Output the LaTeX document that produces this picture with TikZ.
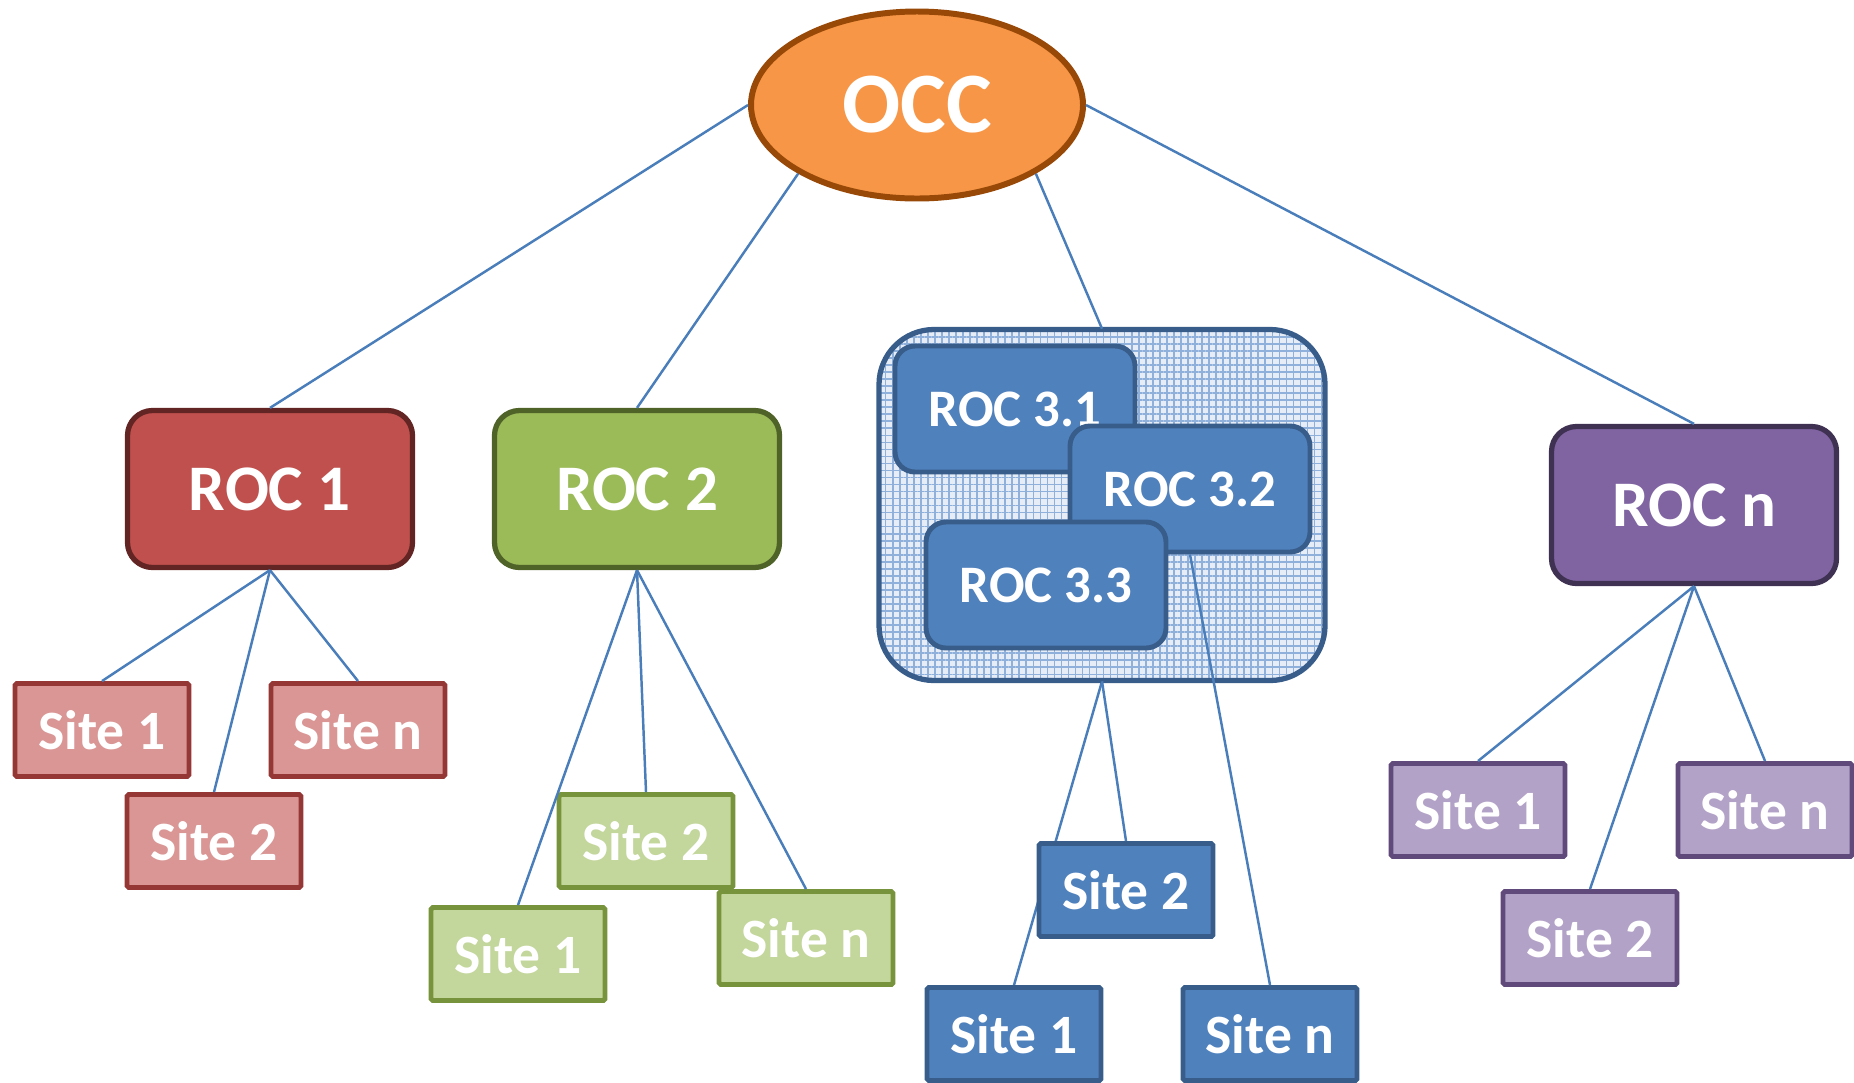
\documentclass[tikz,border=0pt]{standalone}
\usepackage{fontspec}
\setmainfont{Carlito}
\usetikzlibrary{shapes.geometric,backgrounds,patterns.meta}

\definecolor{linkblue}{HTML}{4A7EBB}
\definecolor{occfill}{HTML}{F79646}
\definecolor{occline}{HTML}{984807}
\definecolor{redfill}{HTML}{C0504D}
\definecolor{redline}{HTML}{632523}
\definecolor{redsite}{HTML}{D99694}
\definecolor{redsiteline}{HTML}{953735}
\definecolor{greenfill}{HTML}{9BBB59}
\definecolor{greenline}{HTML}{4F6228}
\definecolor{greensite}{HTML}{C3D69B}
\definecolor{greensiteline}{HTML}{77933C}
\definecolor{bluefill}{HTML}{4F81BD}
\definecolor{blueline}{HTML}{385D8A}
\definecolor{grpfill}{HTML}{E6EDF7}
\definecolor{grphatch}{HTML}{8FB0DA}
\definecolor{purplefill}{HTML}{8064A2}
\definecolor{purpleline}{HTML}{3F3151}
\definecolor{purplesite}{HTML}{B3A2C7}
\definecolor{purplesiteline}{HTML}{604A7B}

\tikzset{
  roc/.style={draw, line width=1.5pt, rounded corners=0.25cm,
    minimum width=2.85cm, minimum height=1.57cm, inner sep=0pt,
    text=white, font=\fontsize{18.5}{19}\selectfont\bfseries},
  subroc/.style={draw=blueline, fill=bluefill, line width=1.4pt,
    rounded corners=0.2cm, minimum width=2.40cm, minimum height=1.26cm,
    inner sep=0pt, text=white, font=\fontsize{15}{15}\selectfont\bfseries},
  site/.style={draw, line width=1.4pt, rounded corners=0.5pt,
    minimum width=1.74cm, minimum height=0.93cm, inner sep=0pt,
    text=white, font=\fontsize{15.8}{16}\selectfont\bfseries},
  link/.style={draw=linkblue, line width=0.7pt}
}

\begin{document}
\begin{tikzpicture}
  \useasboundingbox (0,0) rectangle (18.54,-10.82);

  \node[ellipse, draw=occline, fill=occfill, line width=1.7pt,
        minimum width=3.32cm, minimum height=1.87cm, inner sep=0pt,
        text=white, font=\fontsize{24.5}{25}\selectfont\bfseries]
        (OCC) at (9.17,-1.05) {OCC} ;

  \node[roc, draw=redline, fill=redfill]       (R1) at ( 2.70,-4.89) {ROC 1} ;
  \node[roc, draw=greenline, fill=greenfill]   (R2) at ( 6.37,-4.89) {ROC 2} ;
  \node[roc, draw=purpleline, fill=purplefill] (Rn) at (16.94,-5.05) {ROC n} ;

  \node[draw=blueline, line width=1.5pt, rounded corners=0.55cm,
        preaction={fill=grpfill},
        pattern={Hatch[angle=0, distance=2pt, line width=0.45pt]},
        pattern color=grphatch,
        minimum width=4.46cm, minimum height=3.51cm] (R3) at (11.02,-5.05) {} ;
  \node[subroc] (R31) at (10.15,-4.09) {ROC 3.1} ;
  \node[subroc] (R32) at (11.90,-4.89) {ROC 3.2} ;
  \node[subroc] (R33) at (10.46,-5.85) {ROC 3.3} ;

  \node[site, draw=redsiteline, fill=redsite] (S11) at ( 1.02,-7.30) {Site 1} ;
  \node[site, draw=redsiteline, fill=redsite] (S12) at ( 2.14,-8.41) {Site 2} ;
  \node[site, draw=redsiteline, fill=redsite] (S1n) at ( 3.58,-7.30) {Site n} ;

  \node[site, draw=greensiteline, fill=greensite] (S21) at ( 5.18,-9.54) {Site 1} ;
  \node[site, draw=greensiteline, fill=greensite] (S22) at ( 6.46,-8.41) {Site 2} ;
  \node[site, draw=greensiteline, fill=greensite] (S2n) at ( 8.06,-9.38) {Site n} ;

  \node[site, draw=blueline, fill=bluefill] (S31) at (10.14,-10.34) {Site 1} ;
  \node[site, draw=blueline, fill=bluefill] (S32) at (11.26,-8.90) {Site 2} ;
  \node[site, draw=blueline, fill=bluefill] (S3n) at (12.70,-10.34) {Site n} ;

  \node[site, draw=purplesiteline, fill=purplesite] (Sn1) at (14.78,-8.10) {Site 1} ;
  \node[site, draw=purplesiteline, fill=purplesite] (Sn2) at (15.90,-9.38) {Site 2} ;
  \node[site, draw=purplesiteline, fill=purplesite] (Snn) at (17.65,-8.10) {Site n} ;

  % OCC to the regional centres
  \draw[link] (OCC.west) -- (R1.north) ;
  \draw[link] (OCC.210)  -- (R2.north) ;
  \draw[link] (OCC.330)  -- (R3.north) ;
  \draw[link] (OCC.east) -- (Rn.north) ;

  % regional centres to sites
  \draw[link] (R1.south) -- (S11.north) ;
  \draw[link] (R1.south) -- (S12.north) ;
  \draw[link] (R1.south) -- (S1n.north) ;
  \draw[link] (R2.south) -- (S21.north) ;
  \draw[link] (R2.south) -- (S22.north) ;
  \draw[link] (R2.south) -- (S2n.north) ;
  \begin{scope}[on background layer]
    \draw[link] (R3.south) -- (S31.north) ;
  \end{scope}
  \draw[link] (R3.south) -- (S32.north) ;
  \draw[link] (R32.south) -- (S3n.north) ;
  \draw[link] (Rn.south) -- (Sn1.north) ;
  \draw[link] (Rn.south) -- (Sn2.north) ;
  \draw[link] (Rn.south) -- (Snn.north) ;
\end{tikzpicture}
\end{document}
